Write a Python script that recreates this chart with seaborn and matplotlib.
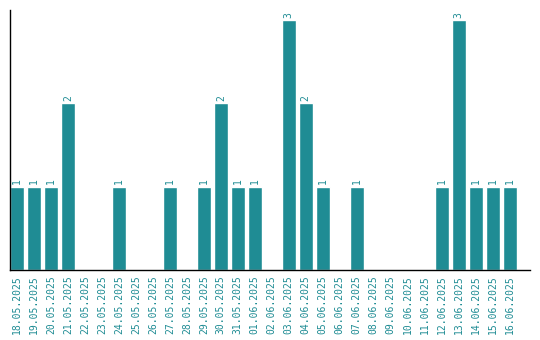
import matplotlib
matplotlib.use("Agg")
import matplotlib.pyplot as plt
import seaborn as sns
import pandas as pd

dates = ["18.05.2025", "19.05.2025", "20.05.2025", "21.05.2025", "22.05.2025",
         "23.05.2025", "24.05.2025", "25.05.2025", "26.05.2025", "27.05.2025",
         "28.05.2025", "29.05.2025", "30.05.2025", "31.05.2025", "01.06.2025",
         "02.06.2025", "03.06.2025", "04.06.2025", "05.06.2025", "06.06.2025",
         "07.06.2025", "08.06.2025", "09.06.2025", "10.06.2025", "11.06.2025",
         "12.06.2025", "13.06.2025", "14.06.2025", "15.06.2025", "16.06.2025"]
counts = [1, 1, 1, 2, 0, 0, 1, 0, 0, 1,
          0, 1, 2, 1, 1, 0, 3, 2, 1, 0,
          1, 0, 0, 0, 0, 1, 3, 1, 1, 1]

df = pd.DataFrame({"date": dates, "count": counts})

sns.set_style("white")
plt.rcParams["font.family"] = ["DejaVu Sans Mono", "DejaVu Sans"]

teal = "#1f8c94"
fig = plt.figure(figsize=(5.4, 3.4), dpi=100)
ax = fig.add_axes([10/540, 70/340, 520/540, 260/340])
sns.barplot(data=df, x="date", y="count", color=teal, width=0.82,
            saturation=1, ax=ax)

for i, v in enumerate(counts):
    if v > 0:
        ax.text(i, v + 0.03, str(v), rotation=90, ha="center", va="bottom",
                fontsize=7, color=teal)

ax.set_xlim(-0.41, 30.2)
ax.set_ylim(0, 3.12)
ax.set_xlabel("")
ax.set_ylabel("")
ax.set_yticks([])
ax.tick_params(axis="x", length=0, pad=4, labelsize=7, labelcolor=teal,
               rotation=90)
for s in ["top", "right"]:
    ax.spines[s].set_visible(False)
for s in ["left", "bottom"]:
    ax.spines[s].set_color("black")
    ax.spines[s].set_linewidth(1)

fig.savefig("out.png", dpi=100)
